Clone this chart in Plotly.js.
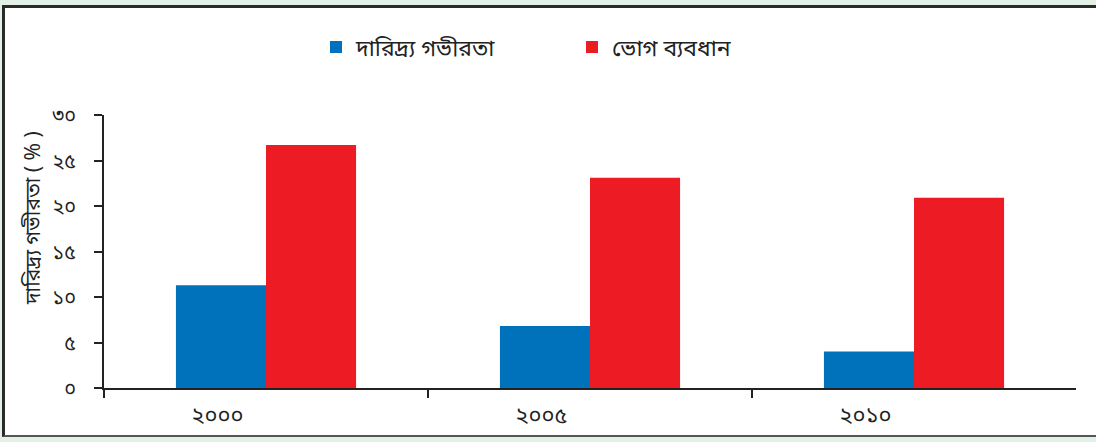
<!DOCTYPE html>
<html>
<head>
<meta charset="utf-8">
<script src="https://cdn.plot.ly/plotly-3.0.1.min.js"></script>
<style>
  html, body { margin:0; padding:0; width:1096px; height:442px; overflow:hidden; background:#e2f0e6; }
  #frame { position:absolute; left:2px; top:5px; width:1094px; height:432px; background:#fff;
           border-top:3px solid #2a2a2a; border-left:3px solid #2a2a2a; border-bottom:2px solid #555; box-sizing:border-box; }
  #chart { position:absolute; left:0; top:0; width:1096px; height:442px; }
</style>
</head>
<body>
<div id="frame"></div>
<div id="chart"></div>
<script>
const years = ['২০০০', '২০০৫', '২০১০'];
const seriesNames = ['দারিদ্র্য গভীরতা', 'ভোগ ব্যবধান'];
const povertyDepth = [11.3, 6.8, 4.0];
const consumptionGap = [26.7, 23.1, 20.9];
const yTickVals = [0, 5, 10, 15, 20, 25, 30];
const yTickText = ['০', '৫', '১০', '১৫', '২০', '২৫', '৩০'];
const yTitle = 'দারিদ্র্য গভীরতা ( % )';

const FONT = '"Noto Sans Bengali", "Lohit Bengali", "Noto Sans", "DejaVu Sans", sans-serif';
const pos = years.map((_, i) => i);

const traces = [
  { type:'bar', name: seriesNames[0], x: pos, y: povertyDepth, marker:{color:'#0072bc'}, hoverinfo:'skip' },
  { type:'bar', name: seriesNames[1], x: pos, y: consumptionGap, marker:{color:'#ed1c24'}, hoverinfo:'skip' }
];

const layout = {
  width:1096, height:442,
  margin:{l:104, r:20, t:115, b:54},
  paper_bgcolor:'rgba(0,0,0,0)', plot_bgcolor:'rgba(0,0,0,0)',
  font:{family:FONT, color:'#222'},
  barmode:'group', bargap:0.444, bargroupgap:0,
  showlegend:true,
  legend:{orientation:'h', x:(316-104)/972, xanchor:'left', y:1.249, yanchor:'middle',
          font:{size:23, color:'#222'}, entrywidth:211, entrywidthmode:'pixels', bgcolor:'rgba(0,0,0,0)'},
  xaxis:{type:'linear', range:[-0.5, 2.5], tickvals:[-0.5, 0.5, 1.5], showticklabels:false,
         ticks:'outside', ticklen:8, tickwidth:2, tickcolor:'#222',
         showline:true, linewidth:2, linecolor:'#222', showgrid:false, zeroline:false, fixedrange:true},
  xaxis2:{type:'linear', overlaying:'x', anchor:'y', side:'bottom', range:[-0.5, 2.5],
          tickvals: pos.map(p => p - 0.15), ticktext: years, ticks:'', showline:false,
          showgrid:false, zeroline:false, ticklabelstandoff:12, tickfont:{size:22, color:'#222'}},
  yaxis:{range:[0, 30], tickvals:yTickVals, ticktext:yTickText, ticks:'outside', ticklen:8,
         tickwidth:2, tickcolor:'#222', showline:true, linewidth:2, linecolor:'#222',
         showgrid:false, zeroline:false, ticklabelstandoff:14, tickfont:{size:20, color:'#222'}, fixedrange:true},
  annotations:[{text:yTitle, xref:'paper', yref:'paper', x:(35-104)/972, y:(388-218)/273,
                xanchor:'center', yanchor:'middle', textangle:-90, showarrow:false,
                font:{size:21, color:'#222'}}]
};
traces.push({type:'scatter', x:[pos[0]], y:[0], xaxis:'x2', yaxis:'y', mode:'markers',
             marker:{opacity:0}, showlegend:false, hoverinfo:'skip'});

Plotly.newPlot('chart', traces, layout, {displayModeBar:false, staticPlot:true});
</script>
</body>
</html>
